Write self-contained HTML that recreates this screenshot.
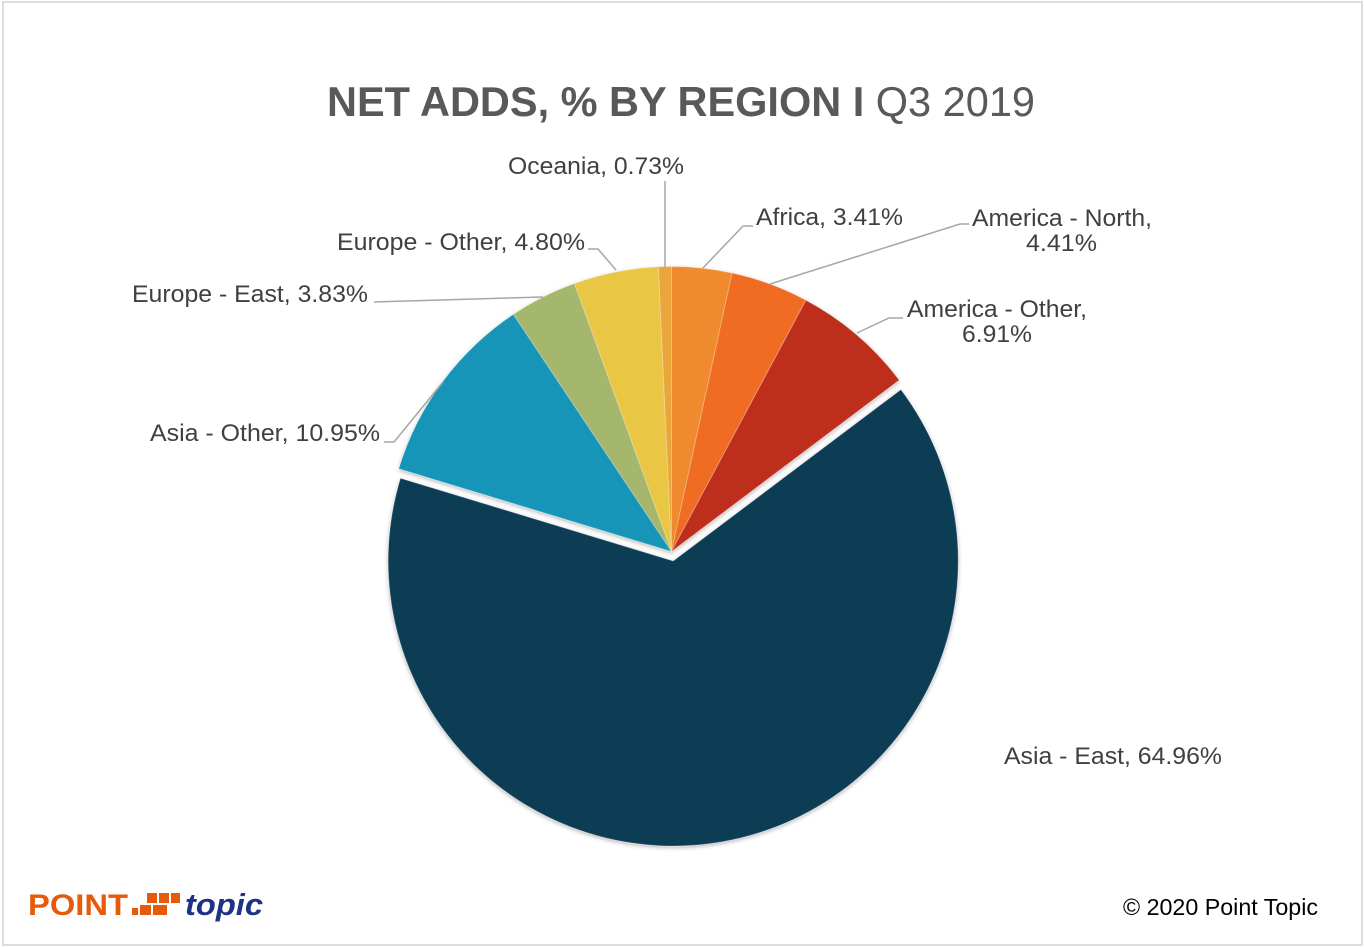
<!DOCTYPE html>
<html>
<head>
<meta charset="utf-8">
<style>
  html, body { margin: 0; padding: 0; background: #ffffff; }
  body { width: 1364px; height: 947px; overflow: hidden; }
  svg { display: block; }
  .lbl { font-family: "Liberation Sans", Arial, sans-serif; font-size: 24px; fill: #404040; }
  .ldr { fill: none; stroke: #a6a6a6; stroke-width: 1.5; }
</style>
</head>
<body>
<svg width="1364" height="947" viewBox="0 0 1364 947" xmlns="http://www.w3.org/2000/svg">
  <defs>
    <filter id="sh" x="-10%" y="-10%" width="120%" height="120%">
      <feDropShadow dx="0" dy="1.5" stdDeviation="2" flood-color="#000" flood-opacity="0.3"/>
    </filter>
  </defs>
  <rect x="0" y="0" width="1364" height="947" fill="#ffffff"/>
  <rect x="3" y="2" width="1359" height="943" fill="none" stroke="#dcdcdc" stroke-width="2"/>

  <!-- Title -->
  <text x="327" y="116" font-family="Liberation Sans, Arial, sans-serif" font-size="41.3" fill="#595959" textLength="708" lengthAdjust="spacingAndGlyphs"><tspan font-weight="bold">NET ADDS, % BY REGION I</tspan><tspan> Q3 2019</tspan></text>

  <!-- Pie -->
  <g filter="url(#sh)" stroke="#ffffff" stroke-opacity="0.25" stroke-width="1">
    <path d="M671.5,551.5 L671.5,266.5 A285,285 0 0 1 732.10,273.02 Z" fill="#F08A2F"/>
    <path d="M671.5,551.5 L732.10,273.02 A285,285 0 0 1 805.96,300.22 Z" fill="#EF6C22"/>
    <path d="M671.5,551.5 L805.96,300.22 A285,285 0 0 1 899.20,380.09 Z" fill="#BE2E1E"/>
    <path d="M673.2,561 L900.90,389.59 A285,285 0 1 1 400.48,478.23 Z" fill="#0F3C55"/>
    <path d="M671.5,551.5 L398.78,468.73 A285,285 0 0 1 513.38,314.38 Z" fill="#1495B9"/>
    <path d="M671.5,551.5 L513.38,314.38 A285,285 0 0 1 574.45,283.53 Z" fill="#A4B76C"/>
    <path d="M671.5,551.5 L574.45,283.53 A285,285 0 0 1 658.43,266.80 Z" fill="#E9C745"/>
    <path d="M671.5,551.5 L658.43,266.80 A285,285 0 0 1 671.5,266.5 Z" fill="#EAA63A"/>
  </g>

  <!-- Leader lines -->
  <path class="ldr" d="M665,181 L665,267"/>
  <path class="ldr" d="M703,268 L743,226 L753,226"/>
  <path class="ldr" d="M770,284 L960,224 L969,224"/>
  <path class="ldr" d="M857,333 L889,318 L903,318"/>
  <path class="ldr" d="M616,270 L598,249 L588,249"/>
  <path class="ldr" d="M543,297 L374,302"/>
  <path class="ldr" d="M443,382 L394,442 L384,442"/>

  <!-- Labels -->
  <text class="lbl" x="508" y="174" textLength="176" lengthAdjust="spacingAndGlyphs">Oceania, 0.73%</text>
  <text class="lbl" x="756" y="225" textLength="147" lengthAdjust="spacingAndGlyphs">Africa, 3.41%</text>
  <text class="lbl" x="972" y="226" textLength="180" lengthAdjust="spacingAndGlyphs">America - North,</text>
  <text class="lbl" x="1026" y="251" textLength="71" lengthAdjust="spacingAndGlyphs">4.41%</text>
  <text class="lbl" x="907" y="317" textLength="180" lengthAdjust="spacingAndGlyphs">America - Other,</text>
  <text class="lbl" x="962" y="342" textLength="70" lengthAdjust="spacingAndGlyphs">6.91%</text>
  <text class="lbl" x="1004" y="764" textLength="218" lengthAdjust="spacingAndGlyphs">Asia - East, 64.96%</text>
  <text class="lbl" x="150" y="441" textLength="230" lengthAdjust="spacingAndGlyphs">Asia - Other, 10.95%</text>
  <text class="lbl" x="132" y="302" textLength="236" lengthAdjust="spacingAndGlyphs">Europe - East, 3.83%</text>
  <text class="lbl" x="337" y="250" textLength="248" lengthAdjust="spacingAndGlyphs">Europe - Other, 4.80%</text>

  <!-- Footer logo -->
  <text x="28" y="915" font-family="Liberation Sans, Arial, sans-serif" font-size="30" font-weight="bold" fill="#E65A0A" textLength="100" lengthAdjust="spacingAndGlyphs">POINT</text>
  <g fill="#E65A0A">
    <rect x="132" y="908" width="6" height="7"/>
    <rect x="140" y="905" width="11" height="10"/>
    <rect x="153" y="905" width="14" height="10"/>
    <rect x="147" y="893" width="10" height="10"/>
    <rect x="159" y="893" width="10" height="10"/>
    <rect x="171" y="893" width="9" height="10"/>
  </g>
  <text x="185" y="915" font-family="Liberation Sans, Arial, sans-serif" font-size="31" font-weight="bold" font-style="italic" fill="#1D3385" textLength="78" lengthAdjust="spacingAndGlyphs">topic</text>

  <text x="1123" y="915" font-family="Liberation Sans, Arial, sans-serif" font-size="23" fill="#000000" textLength="195" lengthAdjust="spacingAndGlyphs">© 2020 Point Topic</text>
</svg>
</body>
</html>
